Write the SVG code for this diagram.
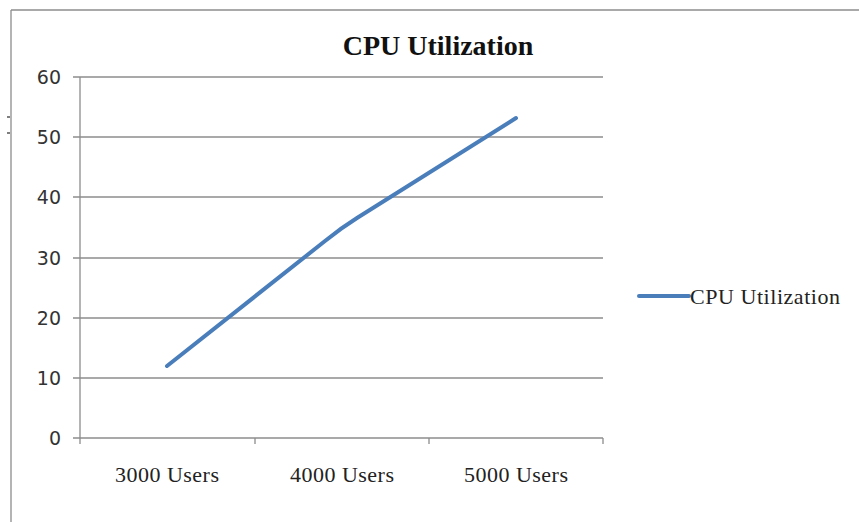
<svg xmlns="http://www.w3.org/2000/svg" width="859" height="522" viewBox="0 0 859 522">
<style>
.grid{stroke:#8c8c8c;stroke-width:1.3;fill:none}
.ylab{font-family:"DejaVu Sans",sans-serif;font-size:19px;fill:#333;text-anchor:end}
.xlab{font-family:"Liberation Serif",serif;font-size:22px;fill:#222;text-anchor:middle}
.series{stroke:#4a7ebb;stroke-width:4;fill:none;stroke-linecap:round;stroke-linejoin:round}
</style>
<rect width="859" height="522" fill="#fff"/>
<g id="frame">
<line class="grid" x1="11" y1="10" x2="859" y2="10"/>
<line class="grid" x1="11" y1="10" x2="11" y2="522"/>
<line x1="7" y1="117" x2="10" y2="117" stroke="#555" stroke-width="1.5"/>
<line x1="7" y1="133" x2="10" y2="133" stroke="#555" stroke-width="1.5"/>
</g>
<g id="title">
<text x="438" y="55" font-family="Liberation Serif,serif" font-size="28" font-weight="bold" fill="#111" text-anchor="middle">CPU Utilization</text>
</g>
<g id="gridlines">
<line class="grid" x1="73" y1="77" x2="603" y2="77"/>
<line class="grid" x1="73" y1="137" x2="603" y2="137"/>
<line class="grid" x1="73" y1="197" x2="603" y2="197"/>
<line class="grid" x1="73" y1="258" x2="603" y2="258"/>
<line class="grid" x1="73" y1="318" x2="603" y2="318"/>
<line class="grid" x1="73" y1="378" x2="603" y2="378"/>
<line class="grid" x1="73" y1="438" x2="603" y2="438"/>
<line class="grid" x1="80" y1="77" x2="80" y2="444"/>
<line class="grid" x1="255" y1="438" x2="255" y2="444"/>
<line class="grid" x1="429" y1="438" x2="429" y2="444"/>
<line class="grid" x1="603" y1="438" x2="603" y2="444"/>
</g>
<g id="y-labels">
<text class="ylab" x="61" y="84">60</text>
<text class="ylab" x="61" y="144">50</text>
<text class="ylab" x="61" y="204">40</text>
<text class="ylab" x="61" y="265">30</text>
<text class="ylab" x="61" y="325">20</text>
<text class="ylab" x="61" y="385">10</text>
<text class="ylab" x="61" y="445">0</text>
</g>
<g id="x-labels">
<text class="xlab" x="167" y="482" textLength="104">3000 Users</text>
<text class="xlab" x="342" y="482" textLength="104">4000 Users</text>
<text class="xlab" x="516" y="482" textLength="104">5000 Users</text>
</g>
<g id="connectors">
<path class="series" d="M167,366 L325,241 Q341,228 357,218 L516,118"/>
</g>
<g id="legend">
<line class="series" x1="639" y1="296" x2="689" y2="296" stroke-linecap="butt"/>
<text x="690" y="304" font-family="Liberation Serif,serif" font-size="22" fill="#222" textLength="150">CPU Utilization</text>
</g>
</svg>
